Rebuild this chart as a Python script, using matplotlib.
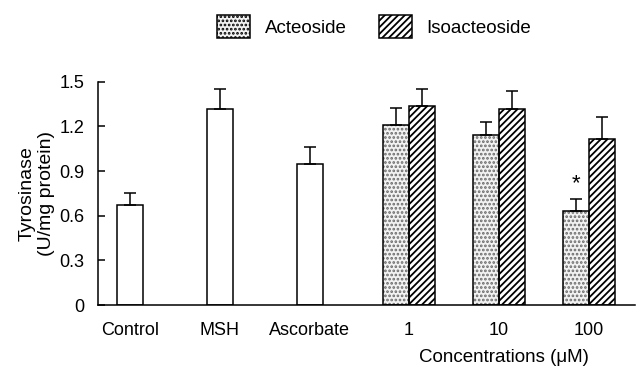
import numpy as np
import matplotlib
matplotlib.use("Agg")
import matplotlib.pyplot as plt
from matplotlib.patches import Patch

# Tyrosinase activity (U/mg protein)
single_labels = ['Control', 'MSH', 'Ascorbate']
single_vals = [0.67, 1.32, 0.95]
single_err = [0.085, 0.13, 0.115]

conc_labels = ['1', '10', '100']
acteoside = [1.21, 1.14, 0.635]
acteoside_err = [0.115, 0.09, 0.08]
isoacteoside = [1.335, 1.315, 1.115]
isoacteoside_err = [0.115, 0.125, 0.15]

plt.rcParams['font.family'] = ['Liberation Sans', 'DejaVu Sans']
plt.rcParams['hatch.linewidth'] = 1.3

fig = plt.figure(figsize=(6.4, 3.72), dpi=100)
ax = fig.add_axes([0.153, 0.180, 0.839, 0.600])

w = 0.29
x_single = np.arange(len(single_labels))
x_group = np.arange(len(conc_labels)) + len(single_labels) + 0.1

err_kw = dict(elinewidth=1.1, capthick=1.1, capsize=4.6, ecolor='black')
dots = dict(color='#f2f2f2', edgecolor='#6a6a6a', hatch='....', linewidth=0)
stripes = dict(color='white', edgecolor='black', hatch='/////', linewidth=0)

ax.bar(x_single, single_vals, w, color='white', edgecolor='black', linewidth=1.1,
       yerr=[np.zeros(3), single_err], error_kw=err_kw, zorder=2)

# acteoside: dotted fill, then black outline with error bars
ax.bar(x_group - w / 2, acteoside, w, zorder=2, **dots)
ax.bar(x_group - w / 2, acteoside, w, fill=False, edgecolor='black', linewidth=1.1,
       yerr=[np.zeros(3), acteoside_err], error_kw=err_kw, zorder=3)
# isoacteoside: striped fill
ax.bar(x_group + w / 2, isoacteoside, w, zorder=2, **stripes)
ax.bar(x_group + w / 2, isoacteoside, w, fill=False, edgecolor='black', linewidth=1.1,
       yerr=[np.zeros(3), isoacteoside_err], error_kw=err_kw, zorder=3)

# significance mark on acteoside 100 uM
ax.text(x_group[2] - w / 2, acteoside[2] + acteoside_err[2] + 0.03, '*',
        ha='center', va='bottom', fontsize=16)

ax.set_xlim(-0.356, 5.61)
ax.set_ylim(0, 1.5)
ax.set_yticks([0, 0.3, 0.6, 0.9, 1.2, 1.5])
ax.set_yticklabels(['0', '0.3', '0.6', '0.9', '1.2', '1.5'])
ax.set_xticks(list(x_single) + list(x_group))
ax.set_xticklabels(single_labels + conc_labels)

ax.tick_params(axis='y', direction='in', length=4.8, width=1.1, pad=10, labelsize=13)
ax.tick_params(axis='x', length=0, pad=12, labelsize=13)
for s in ['top', 'right']:
    ax.spines[s].set_visible(False)
for s in ['left', 'bottom']:
    ax.spines[s].set_linewidth(1.1)

ax.set_ylabel('Tyrosinase\n(U/mg protein)', fontsize=14, labelpad=3, linespacing=1.2)

fig.text(0.788, 0.038, 'Concentrations (\u03bcM)', ha='center', va='center', fontsize=13.5)

leg_handles = [Patch(facecolor='#f2f2f2', edgecolor='black', hatch='....', linewidth=1.1),
               Patch(facecolor='white', edgecolor='black', hatch='/////', linewidth=1.1)]
fig.legend(handles=leg_handles, labels=['Acteoside', 'Isoacteoside'], loc='center',
           bbox_to_anchor=(0.585, 0.928), ncol=2, frameon=False, fontsize=13.5,
           handlelength=1.75, handleheight=1.5, handletextpad=0.8, columnspacing=1.7,
           borderpad=0)

fig.savefig('out.png', dpi=100)
